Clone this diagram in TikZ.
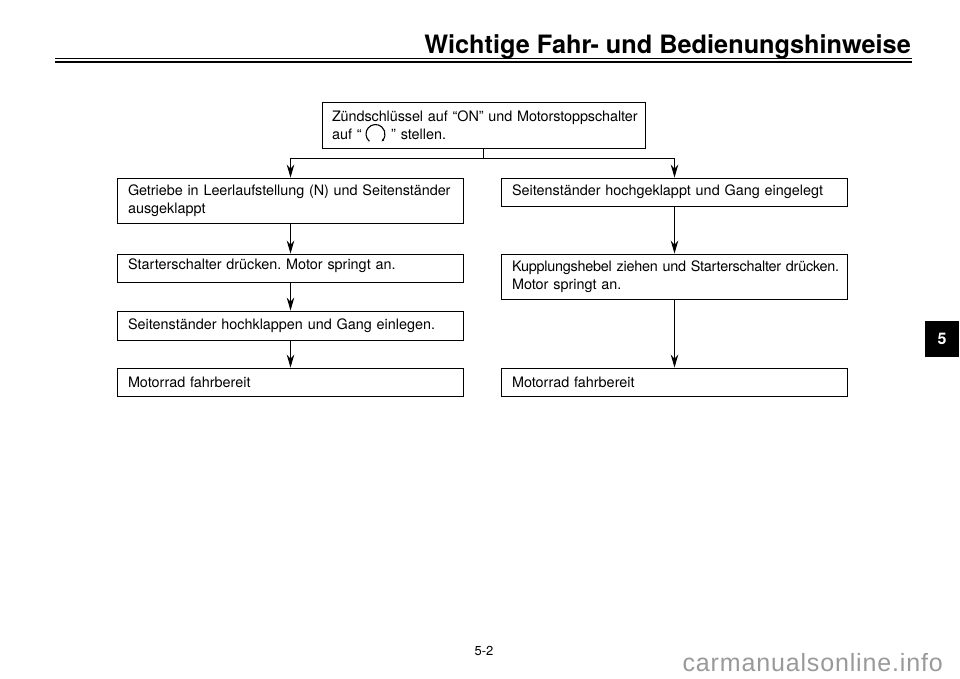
\documentclass[tikz,border=0pt]{standalone}
\usepackage{fontspec}
\setmainfont{TeX Gyre Heros}
\newfontfamily\sitefont[LetterSpace=3.4]{Liberation Sans}
\usetikzlibrary{arrows.meta}
\tikzset{
 stepbox/.style={draw,line width=0.9pt,inner sep=0pt,text width=325pt,minimum width=346.5pt,align=left,font=\fontsize{14.4}{18.5}\selectfont\frenchspacing},
 flow/.style={line width=0.9pt,-{Stealth[length=13pt,width=7.5pt]}}
}
\begin{document}
\begin{tikzpicture}[x=1pt,y=-1pt]
 \useasboundingbox (0,0) rectangle (960,678);
 % title and rules
 \node (title) [anchor=base east,inner sep=0pt,font=\fontsize{25.3}{30}\selectfont\bfseries] at (911,53) {Wichtige Fahr- und Bedienungshinweise};
 \draw[line width=1pt] (55,58.5) -- (912,58.5);
 \draw[line width=2.6pt] (55,62) -- (912,62);
 % start box
 \node (start) [stepbox,text width=303pt,minimum width=323pt,minimum height=46pt] at (483.5,125) {\mbox{\addfontfeature{LetterSpace=-0.5}Zündschlüssel auf “ON” und Motorstoppschalter}\\auf “ \hspace{20pt} ” stellen.};
 \draw[line width=1.1pt,-{Stealth[length=2.5pt,width=2.5pt]}] (369.4,141.3) arc[start angle=130,end angle=410,radius=9.5];
 % left branch
 \node (gear) [stepbox,minimum height=45pt] at (290.5,200.5) {\mbox{\addfontfeature{LetterSpace=-0.3}Getriebe in Leerlaufstellung (N) und Seitenständer}\\ausgeklappt};
 \node (press) [stepbox,minimum height=28pt,text depth=7pt] at (290.5,268) {Starterschalter drücken. Motor springt an.};
 \node (stand) [stepbox,minimum height=29pt] at (290.5,325.5) {Seitenständer hochklappen und Gang einlegen.};
 \node (readyl) [stepbox,minimum height=28pt] at (290.5,382) {Motorrad fahrbereit};
 % right branch
 \node (raised) [stepbox,minimum height=28pt] at (674.5,192) {Seitenständer hochgeklappt und Gang eingelegt};
 \node (clutch) [stepbox,minimum height=45pt] at (674.5,276.5) {\mbox{\addfontfeature{LetterSpace=-1.7}Kupplungshebel ziehen und Starterschalter drücken.}\\Motor springt an.};
 \node (readyr) [stepbox,minimum height=28pt] at (674.5,382) {Motorrad fahrbereit};
 % connectors
 \coordinate (fork) at (483.5,158);
 \draw[line width=0.9pt] (start.south) -- (fork);
 \draw[flow] (fork) -| (gear.north);
 \draw[flow] (fork) -| (raised.north);
 \draw[flow] (gear) -- (press);
 \draw[flow] (press) -- (stand);
 \draw[flow] (stand) -- (readyl);
 \draw[flow] (raised) -- (clutch);
 \draw[flow] (clutch) -- (readyr);
 % chapter tab
 \node (tab) [fill=black,text=white,minimum width=34pt,minimum height=36pt,inner sep=0pt,font=\fontsize{16}{18}\selectfont\bfseries] at (942,339) {5};
 \node (page) [inner sep=0pt,font=\fontsize{13}{15}\selectfont] at (484,651) {5-2};
 \node (site) [anchor=base east,inner sep=0pt,text=black!40,font=\fontsize{25}{28}\selectfont\sitefont] at (943,671) {carmanualsonline.info};
\end{tikzpicture}
\end{document}
